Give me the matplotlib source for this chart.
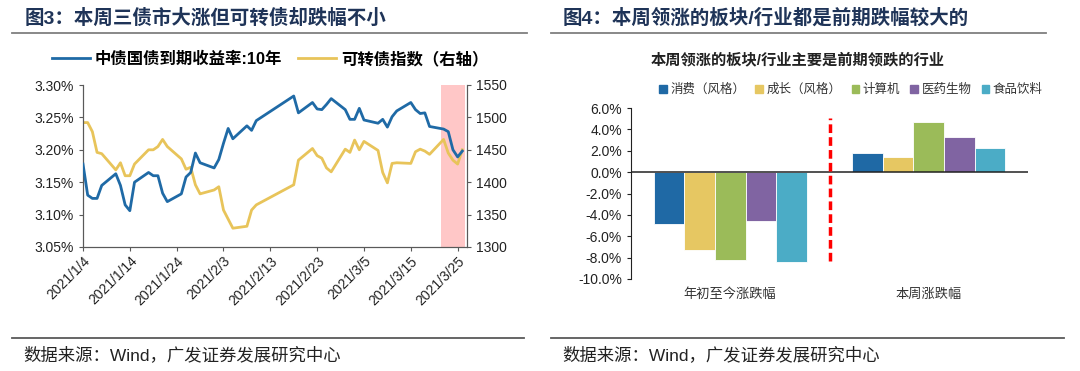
import matplotlib
matplotlib.use("Agg")
import matplotlib.pyplot as plt
import matplotlib.dates as mdates
from matplotlib.lines import Line2D
from matplotlib.patches import Patch
import numpy as np
import pandas as pd

plt.rcParams['font.family'] = ['Liberation Sans', 'Noto Sans CJK SC', 'DejaVu Sans']

# ---- left chart data ----
dates = ['2021-01-04', '2021-01-05', '2021-01-06', '2021-01-07', '2021-01-08',
         '2021-01-11', '2021-01-12', '2021-01-13', '2021-01-14', '2021-01-15',
         '2021-01-18', '2021-01-19', '2021-01-20', '2021-01-21', '2021-01-22',
         '2021-01-25', '2021-01-26', '2021-01-27', '2021-01-28', '2021-01-29',
         '2021-02-01', '2021-02-02', '2021-02-03', '2021-02-04', '2021-02-05',
         '2021-02-08', '2021-02-09', '2021-02-10', '2021-02-18', '2021-02-19',
         '2021-02-22', '2021-02-23', '2021-02-24', '2021-02-25', '2021-02-26',
         '2021-03-01', '2021-03-02', '2021-03-03', '2021-03-04', '2021-03-05',
         '2021-03-08', '2021-03-09', '2021-03-10', '2021-03-11', '2021-03-12',
         '2021-03-15', '2021-03-16', '2021-03-17', '2021-03-18', '2021-03-19',
         '2021-03-22', '2021-03-23', '2021-03-24', '2021-03-25', '2021-03-26']
yield_10y = [3.178, 3.130, 3.125, 3.125, 3.145,
             3.163, 3.145, 3.115, 3.106, 3.150,
             3.165, 3.160, 3.160, 3.133, 3.120,
             3.132, 3.158, 3.165, 3.195, 3.180,
             3.172, 3.185, 3.210, 3.233, 3.217,
             3.237, 3.230, 3.245, 3.283, 3.257,
             3.273, 3.263, 3.262, 3.270, 3.279,
             3.262, 3.247, 3.247, 3.264, 3.246,
             3.241, 3.247, 3.235, 3.251, 3.260,
             3.273, 3.262, 3.256, 3.257, 3.236,
             3.232, 3.228, 3.200, 3.189, 3.198]
cb_index = [1492, 1492, 1478, 1446, 1444,
            1419, 1430, 1410, 1410, 1428,
            1450, 1450, 1455, 1466, 1455,
            1436, 1420, 1423, 1396, 1382,
            1388, 1393, 1357, 1343, 1329,
            1332, 1357, 1365, 1396, 1434,
            1452, 1441, 1437, 1422, 1416,
            1451, 1446, 1465, 1450, 1463,
            1449, 1415, 1399, 1429, 1430,
            1429, 1447, 1451, 1448, 1443,
            1466, 1445, 1434, 1428, 1450]
tick_dates = ['2021-01-04', '2021-01-14', '2021-01-24', '2021-02-03', '2021-02-13',
              '2021-02-23', '2021-03-05', '2021-03-15', '2021-03-25']
week_start, week_end = '2021-03-22', '2021-03-26'

# ---- right chart data ----
groups = ['年初至今涨跌幅', '本周涨跌幅']
sectors = ['消费（风格）', '成长（风格）', '计算机', '医药生物', '食品饮料']
sector_colors = ['#1F69A5', '#E6C762', '#9BBB59', '#8064A2', '#4BACC6']
changes = [[-4.9, -7.3, -8.25, -4.55, -8.4],
           [1.75, 1.45, 4.7, 3.3, 2.25]]

W, H = 1080, 371
fig = plt.figure(figsize=(W / 100, H / 100), dpi=100)


def px(x0, y0, x1, y1):
    return [x0 / W, 1 - y1 / H, (x1 - x0) / W, (y1 - y0) / H]


title_color = '#1F3458'
fig.text(25 / W, 1 - 18 / H, '图3：本周三债市大涨但可转债却跌幅不小', fontsize=14,
         fontweight='bold', color=title_color, va='center')
fig.text(563 / W, 1 - 18 / H, '图4：本周领涨的板块/行业都是前期跌幅较大的', fontsize=14,
         fontweight='bold', color=title_color, va='center')
for x0, x1 in [(12, 527), (551, 1046)]:
    fig.add_artist(Line2D([x0 / W, x1 / W], [1 - 33 / H] * 2, color='#7F7F7F', lw=1.3))
for x0, x1 in [(12, 524), (551, 1064)]:
    fig.add_artist(Line2D([x0 / W, x1 / W], [1 - 338 / H] * 2, color='#595959', lw=1.3))
for x0 in [23, 562]:
    fig.text(x0 / W, 1 - 355 / H, '数据来源：Wind，广发证券发展研究中心', fontsize=12.5,
             color='#222222', va='center')

# ---- left chart ----
d = pd.to_datetime(dates)
ax = fig.add_axes(px(83, 85, 467, 247))
ax2 = ax.twinx()
d0 = mdates.date2num(pd.Timestamp(dates[0]))
ax.set_xlim(d0, d0 + 82)
ax2.axvspan(mdates.date2num(pd.Timestamp(week_start)) - 0.5,
            mdates.date2num(pd.Timestamp(week_end)) + 0.5,
            color='#FFC7C7', zorder=0, lw=0)
l2, = ax2.plot(d, cb_index, color='#E8C45A', lw=2, zorder=2)
ax.set_zorder(ax2.get_zorder() + 1)
ax.patch.set_visible(False)
l1, = ax.plot(d, yield_10y, color='#1F6AA6', lw=2, zorder=3)
ax.set_ylim(3.05, 3.30)
ax.set_yticks(np.arange(3.05, 3.301, 0.05))
ax.set_yticklabels([f'{v:.2f}%' for v in np.arange(3.05, 3.301, 0.05)])
ax2.set_ylim(1300, 1550)
ax2.set_yticks(range(1300, 1551, 50))
tk = pd.to_datetime(tick_dates)
ax.set_xticks(mdates.date2num(tk))
ax.set_xticklabels([f'{t.year}/{t.month}/{t.day}' for t in tk], rotation=45,
                   ha='right', rotation_mode='anchor')
for a in (ax, ax2):
    a.spines['top'].set_visible(False)
    for s in a.spines.values():
        s.set_color('#595959')
    a.tick_params(labelsize=10, color='#595959', length=3, labelcolor='#222222')
ax.tick_params(axis='x', pad=2)

fig.legend([l1, l2], ['中债国债到期收益率:10年', '可转债指数（右轴）'],
           loc='center', bbox_to_anchor=(270 / W, 1 - 59 / H), ncol=2, frameon=False,
           prop={'size': 11.8, 'weight': 'bold'}, handlelength=2.3,
           handletextpad=0.3, columnspacing=1.0)

# ---- right chart ----
bx = fig.add_axes(px(631, 108, 1028, 279))
n = len(sectors)
bw = 0.1537
xs = np.arange(len(groups))
for i in range(n):
    vals = [changes[g][i] for g in range(len(groups))]
    bx.bar(xs + (i - (n - 1) / 2) * bw, vals, width=bw, color=sector_colors[i],
           edgecolor='white', lw=0.6, label=sectors[i], zorder=2)
bx.set_xlim(-0.5, len(groups) - 0.5)
bx.set_ylim(-10, 6)
bx.set_yticks(np.arange(-10, 6.1, 2))
bx.set_yticklabels([f'{v:.1f}%' for v in np.arange(-10, 6.1, 2)])
bx.axhline(0, color='#222222', lw=1.1, zorder=3)
bx.vlines(0.5, -8.3, 5.1, color='#FF0000', lw=2.5, linestyles=(0, (2.5, 1.2)), zorder=4)
for s in ['top', 'right', 'bottom']:
    bx.spines[s].set_visible(False)
bx.spines['left'].set_color('#222222')
bx.set_xticks([])
bx.tick_params(axis='y', labelsize=10, length=3, color='#222222', labelcolor='#222222')
for g, name in enumerate(groups):
    bx.text(g, -0.09, name, transform=bx.get_xaxis_transform(), ha='center',
            va='center', fontsize=9.5, color='#333333')
fig.text(798 / W, 1 - 60 / H, '本周领涨的板块/行业主要是前期领跌的行业', fontsize=11,
         fontweight='bold', ha='center', va='center', color='#222222')
handles = [Patch(color=c) for c in sector_colors]
fig.legend(handles, sectors, loc='center', bbox_to_anchor=(851 / W, 1 - 90 / H), ncol=5,
           frameon=False, fontsize=9, handlelength=0.6, handleheight=0.6,
           handletextpad=0.3, columnspacing=0.8, labelcolor='#333333')

fig.savefig('out.png', dpi=100)
